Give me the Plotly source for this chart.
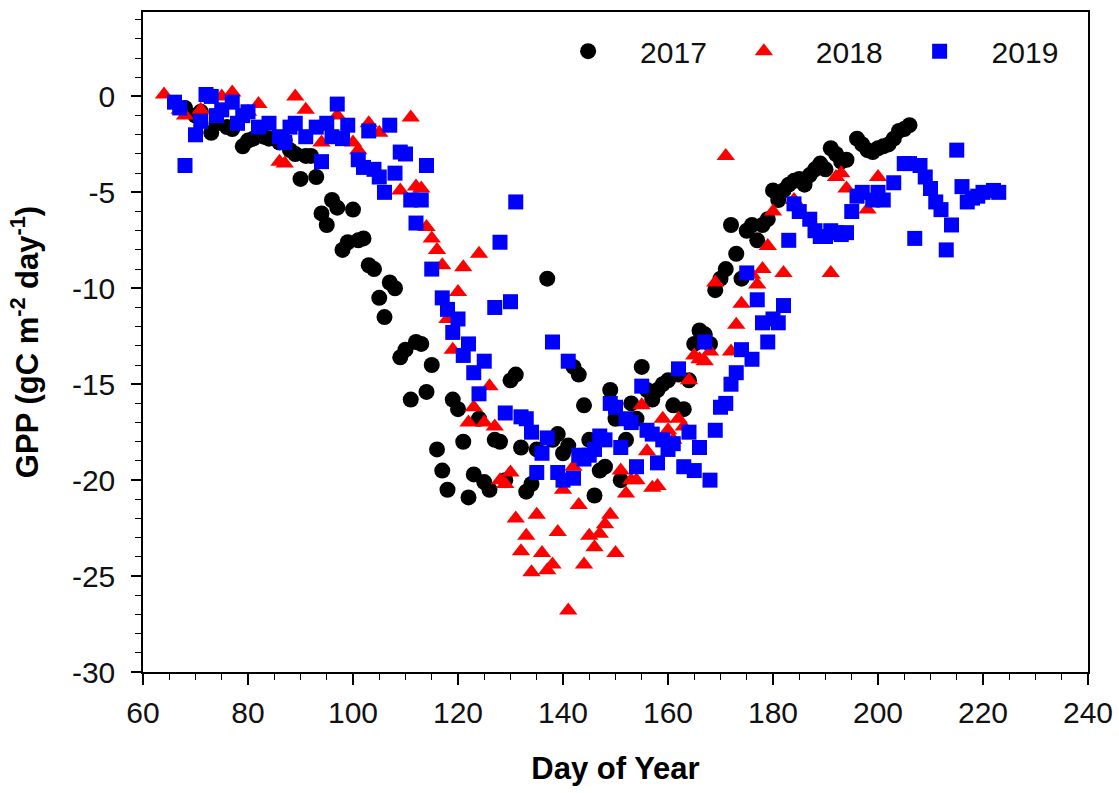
import plotly.graph_objects as go

# Daily GPP (gC m-2 day-1) by day of year
doy_2017 = [68, 70, 71, 73, 74, 76, 77, 79, 80, 81, 83, 84, 86, 87, 88, 89, 90, 91, 92, 93,
            94, 95, 96, 97, 98, 99, 100, 101, 102, 103, 104, 105, 106, 107, 108, 109, 110, 111,
            112, 113, 114, 115, 116, 117, 118, 119, 120, 121, 122, 123, 124, 125, 126, 127, 128,
            129, 130, 131, 132, 133, 134, 135, 137, 138, 139, 140, 141, 142, 143, 144, 145, 146,
            147, 148, 149, 150, 151, 152, 153, 154, 155, 156, 157, 158, 159, 160, 161, 162, 163,
            164, 165, 166, 167, 168, 169, 170, 171, 172, 173, 174, 175, 176, 177, 178, 179, 180,
            181, 182, 183, 184, 185, 186, 187, 188, 189, 190, 191, 192, 193, 194, 196, 197, 198,
            199, 200, 201, 202, 203, 204, 205, 206]
gpp_2017 = [-0.6, -1.0, -0.8, -1.9, -1.4, -1.6, -1.7, -2.6, -2.3, -2.2, -2.1, -2.2, -2.4, -2.3,
            -2.8, -3.0, -4.3, -3.1, -3.1, -4.2, -6.1, -6.7, -5.4, -5.8, -8.0, -7.6, -5.9, -7.5,
            -7.4, -8.8, -9.0, -10.5, -11.5, -9.7, -10.0, -13.6, -13.2, -15.8, -12.8, -12.9,
            -15.4, -14.0, -18.4, -19.5, -20.5, -15.8, -16.3, -18.0, -20.9, -19.7, -16.8, -20.1,
            -20.5, -17.9, -18.0, -20.0, -14.8, -14.5, -18.3, -20.6, -20.2, -18.4, -9.5, -17.9,
            -17.6, -18.6, -18.2, -14.1, -14.5, -16.1, -17.9, -20.8, -19.5, -19.3, -15.3, -16.8,
            -20.0, -17.9, -16.0, -16.8, -14.1, -15.3, -15.8, -15.3, -15.0, -14.8, -16.1, -14.5,
            -16.3, -14.8, -12.9, -12.2, -12.4, -12.9, -10.1, -9.5, -9.0, -6.7, -8.2, -9.5, -7.0,
            -6.7, -7.5, -6.7, -6.4, -4.9, -5.4, -4.9, -4.6, -4.4, -4.3, -4.6, -4.1, -3.8, -3.5,
            -3.8, -2.7, -3.0, -3.4, -3.3, -2.2, -2.5, -2.8, -2.9, -2.7, -2.6, -2.5, -2.2, -1.8,
            -1.7, -1.5]

doy_2018 = [64, 67, 68, 71, 75, 77, 80, 82, 86, 87, 89, 91, 94, 97, 100, 101, 103, 105, 109,
            111, 112, 113, 114, 115, 116, 117, 118, 119, 120, 121, 122, 123, 124, 125, 126, 127,
            128, 129, 130, 131, 132, 133, 134, 135, 136, 137, 138, 139, 140, 141, 142, 143, 144,
            145, 146, 147, 148, 149, 150, 151, 152, 153, 154, 155, 156, 157, 158, 159, 160, 161,
            162, 163, 164, 165, 166, 167, 168, 169, 171, 172, 173, 174, 176, 177, 178, 179, 180,
            182, 184, 191, 192, 193, 194, 198, 200]
gpp_2018 = [0.1, -0.7, -1.0, -0.7, 0.0, 0.2, -0.8, -0.4, -3.4, -3.5, 0.0, -0.7, -2.4, -1.0,
            -2.4, -2.8, -1.4, -1.9, -4.9, -1.1, -4.7, -4.8, -6.8, -7.4, -8.0, -8.8, -11.6,
            -13.2, -10.2, -8.9, -17.0, -16.2, -8.2, -17.0, -15.1, -17.2, -20.0, -20.2, -19.6,
            -22.0, -23.7, -22.9, -24.8, -21.8, -23.8, -24.7, -24.4, -22.7, -20.5, -26.8, -19.3,
            -21.3, -24.4, -22.9, -23.5, -22.8, -22.3, -21.8, -23.8, -19.5, -20.7, -20.0, -20.0,
            -16.1, -18.5, -20.4, -20.3, -16.8, -17.4, -17.9, -16.8, -17.2, -14.8, -13.5, -13.7,
            -13.8, -13.3, -9.7, -3.1, -13.3, -11.9, -10.8, -9.3, -9.8, -9.0, -7.8, -6.0, -9.2,
            -5.4, -9.2, -4.2, -4.0, -4.8, -5.9, -4.2]

doy_2019 = [66, 67, 68, 70, 71, 72, 73, 74, 75, 77, 78, 79, 80, 82, 84, 86, 87, 88, 89, 91, 93,
            94, 95, 96, 97, 98, 99, 101, 102, 103, 104, 105, 106, 107, 108, 109, 110, 111, 112,
            113, 114, 115, 117, 118, 119, 120, 121, 122, 123, 124, 125, 127, 128, 129, 130, 131,
            132, 133, 134, 135, 136, 137, 138, 139, 140, 141, 142, 143, 144, 145, 146, 147, 148,
            149, 150, 151, 152, 153, 154, 155, 156, 157, 158, 159, 160, 161, 162, 163, 164, 165,
            166, 167, 168, 169, 170, 171, 172, 173, 174, 175, 176, 177, 178, 179, 180, 181, 182,
            183, 184, 185, 187, 188, 189, 190, 191, 192, 193, 194, 195, 196, 197, 199, 200, 201,
            203, 205, 206, 207, 208, 209, 210, 211, 212, 213, 214, 215, 216, 217, 218, 219, 220,
            222, 223]
gpp_2019 = [-0.3, -0.6, -3.6, -2.0, -1.3, 0.1, 0.0, -1.0, -0.7, -0.3, -1.4, -1.0, -0.8, -1.6,
            -1.4, -2.1, -2.4, -1.6, -1.4, -2.1, -1.6, -3.4, -1.4, -2.1, -0.4, -2.2, -1.5, -3.3,
            -3.7, -1.8, -3.8, -4.2, -5.0, -1.5, -4.0, -2.9, -3.0, -5.4, -6.6, -5.4, -3.6, -9.0,
            -10.5, -11.1, -12.3, -11.6, -13.5, -12.9, -14.4, -15.5, -13.8, -11.0, -7.6, -16.5,
            -10.7, -5.5, -16.7, -16.8, -17.5, -19.6, -18.6, -17.8, -12.8, -19.6, -20.0, -13.8,
            -19.9, -18.7, -18.9, -18.7, -18.4, -17.7, -17.9, -16.0, -16.2, -18.3, -16.8, -17.0,
            -19.3, -15.1, -17.4, -17.6, -19.1, -17.9, -18.4, -18.1, -14.2, -19.3, -17.5, -19.5,
            -18.3, -12.8, -20.0, -17.4, -16.2, -16.0, -15.0, -14.4, -13.2, -9.2, -13.7, -10.6,
            -11.8, -12.8, -11.6, -11.8, -10.9, -7.5, -5.6, -6.0, -6.4, -7.0, -7.3, -7.3, -7.0,
            -7.1, -7.2, -7.1, -6.0, -5.2, -5.0, -5.4, -5.0, -5.4, -4.5, -3.5, -3.5, -7.4, -3.6,
            -4.2, -4.8, -5.5, -5.9, -8.0, -6.7, -2.8, -4.7, -5.5, -5.3, -5.2, -5.0, -4.9, -5.0]

# Axis tick values and labels
x_ticks = [60, 80, 100, 120, 140, 160, 180, 200, 220, 240]
y_ticks = [0, -5, -10, -15, -20, -25, -30]
y_tick_text = ["0", "-5", "-10", "-15", "-20", "-25", "-30"]

FONT = "Liberation Sans, Arial, sans-serif"

fig = go.Figure()
fig.add_trace(go.Scatter(x=doy_2017, y=gpp_2017, mode="markers", name="2017",
                         marker=dict(symbol="circle", size=16, color="#000000")))
fig.add_trace(go.Scatter(x=doy_2018, y=gpp_2018, mode="markers", name="2018",
                         marker=dict(symbol="triangle-up", size=16, color="#FF0000")))
fig.add_trace(go.Scatter(x=doy_2019, y=gpp_2019, mode="markers", name="2019",
                         marker=dict(symbol="square", size=15, color="#0000FF")))

axis_common = dict(showgrid=False, zeroline=False, showline=True, linecolor="black",
                   linewidth=1.5, mirror=True, ticks="outside", tickcolor="black",
                   tickwidth=1.5, tickfont=dict(family=FONT, size=30, color="#111111"))

fig.update_xaxes(range=[60, 240], tickmode="array", tickvals=x_ticks, ticklen=11,
                 ticklabelstandoff=2,
                 minor=dict(ticks="outside", dtick=5, tick0=60, ticklen=6,
                            tickcolor="black", tickwidth=1.2, showgrid=False),
                 title=dict(text="<b>Day of Year</b>", standoff=30,
                            font=dict(family=FONT, size=31, color="black")),
                 **axis_common)
fig.update_yaxes(range=[-30, 4.4], tickmode="array", tickvals=y_ticks, ticktext=y_tick_text,
                 ticklen=10, ticklabelstandoff=10,
                 minor=dict(ticks="outside", dtick=1, tick0=0, ticklen=6,
                            tickcolor="black", tickwidth=1.2, showgrid=False),
                 title=dict(text="<b>GPP (gC m<sup>-2</sup> day<sup>-1</sup>)</b>", standoff=24,
                            font=dict(family=FONT, size=31, color="black")),
                 **axis_common)

fig.update_layout(
    width=1119, height=793,
    margin=dict(l=143, r=31, t=12, b=121, autoexpand=False),
    plot_bgcolor="white", paper_bgcolor="white",
    font=dict(family=FONT, color="black"),
    legend=dict(orientation="h", x=0.416, y=0.980, xanchor="left", yanchor="top",
                font=dict(family=FONT, size=30, color="#111111"),
                itemwidth=94, bgcolor="rgba(0,0,0,0)", borderwidth=0),
)

fig.write_html("out.html")
